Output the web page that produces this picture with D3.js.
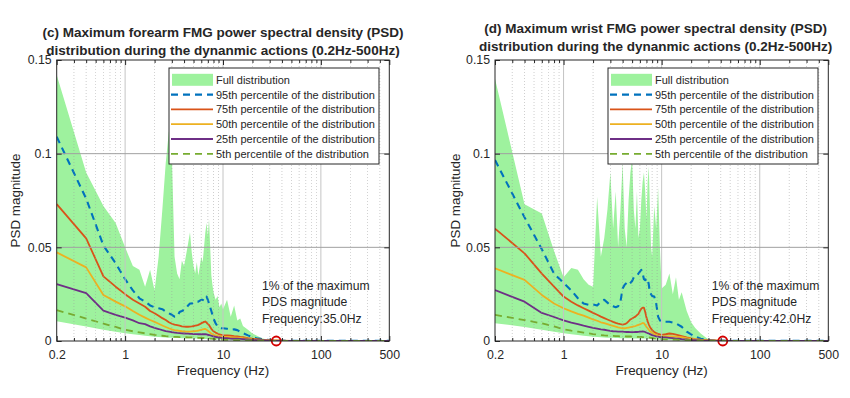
<!DOCTYPE html>
<html><head><meta charset="utf-8">
<script src="https://cdn.jsdelivr.net/npm/d3@7"></script>
<style>
body{margin:0;background:#fff}
svg{display:block}
text{font-family:"Liberation Sans",Arial,Helvetica,sans-serif;fill:#262626}
</style>
</head><body>
<svg id="chart" width="850" height="398"></svg>
<script>
// ---------- data ----------
const freq = [0.2,0.4,0.6,0.8,1.0,1.2,1.4,1.6,1.8,2.0,
  2.2,2.4,2.6,2.8,3.0,3.2,3.4,3.6,3.8,4.0,
  4.2,4.4,4.6,4.8,5.0,5.2,5.4,5.6,5.8,6.0,
  6.2,6.4,6.6,6.8,7.0,7.2,7.4,7.6,7.8,8.0,
  8.4,8.8,9.2,9.6,10,11,12,13,14,15,
  16,18,20,22,25,28,30,35,40,50,
  70,100,200,500];

// (c) forearm
const forearmMax = [0.142,0.090,0.072,0.063,0.050,0.040,0.038,0.029,0.038,0.027,
  0.045,0.070,0.095,0.112,0.100,0.045,0.036,0.033,0.043,0.040,
  0.046,0.052,0.058,0.047,0.040,0.036,0.042,0.035,0.040,0.045,
  0.042,0.050,0.058,0.063,0.056,0.065,0.050,0.035,0.030,0.026,
  0.022,0.024,0.018,0.020,0.017,0.022,0.013,0.019,0.011,0.012,
  0.008,0.006,0.004,0.003,0.0015,0.0008,0.0005,0.0003,0.0002,0.0001,
  0.0001,0.0001,0.0001,0.0001];
const forearmMin = [0.0105,0.0078,0.0060,0.0050,0.0042,0.0036,0.0032,0.0028,0.0025,0.0023,
  0.0021,0.0020,0.0019,0.0018,0.0018,0.0017,0.0016,0.0016,0.0015,0.0015,
  0.0014,0.0014,0.0014,0.0013,0.0013,0.0013,0.0013,0.0012,0.0012,0.0012,
  0.0012,0.0012,0.0011,0.0011,0.0011,0.0011,0.0010,0.0010,0.0010,0.0009,
  0.0009,0.0008,0.0008,0.0007,0.0006,0.0005,0.0004,0.0004,0.0003,0.0003,
  0.0003,0.0002,0.0002,0.0001,0.0001,0.0001,0.0001,0,0,0,
  0,0,0,0];
const forearmP95 = [0.109,0.076,0.051,0.0415,0.033,0.027,0.0228,0.021,0.019,0.018,
  0.0175,0.017,0.0157,0.0148,0.014,0.013,0.013,0.0155,0.016,0.0166,
  0.0175,0.019,0.020,0.020,0.0205,0.021,0.021,0.021,0.0215,0.022,
  0.022,0.0215,0.0225,0.0237,0.022,0.020,0.018,0.016,0.014,0.012,
  0.0095,0.0078,0.007,0.0068,0.0068,0.0065,0.006,0.0062,0.0058,0.005,
  0.0042,0.003,0.002,0.0015,0.001,0.0007,0.0005,0.0003,0.0002,0.0001,
  0.0001,0.0001,0.0001,0.0001];
const forearmP75 = [0.0731,0.0548,0.0345,0.029,0.025,0.022,0.020,0.0183,0.016,0.0148,
  0.0135,0.0122,0.0112,0.010,0.0092,0.0087,0.0085,0.0082,0.0078,0.0077,
  0.0076,0.0076,0.0077,0.0078,0.008,0.0082,0.0084,0.0086,0.009,0.0095,
  0.0098,0.0102,0.0104,0.0098,0.009,0.0085,0.0075,0.0065,0.0058,0.0052,
  0.0045,0.004,0.0035,0.0033,0.0031,0.003,0.0028,0.0026,0.0025,0.0022,
  0.002,0.0015,0.0012,0.001,0.0007,0.0005,0.0004,0.0003,0.0002,0.0001,
  0.0001,0.0001,0.0001,0.0001];
const forearmP50 = [0.0473,0.0393,0.0246,0.021,0.0185,0.016,0.014,0.0125,0.0112,0.0102,
  0.0092,0.0083,0.0075,0.0068,0.0062,0.0058,0.0056,0.0054,0.0052,0.0051,
  0.005,0.005,0.005,0.0051,0.0052,0.0053,0.0054,0.0056,0.0058,0.006,
  0.0062,0.0064,0.0064,0.006,0.0055,0.005,0.0044,0.004,0.0036,0.0033,
  0.003,0.0027,0.0025,0.0024,0.0023,0.0022,0.002,0.0019,0.0018,0.0017,
  0.0015,0.0012,0.0009,0.0007,0.0005,0.0004,0.0003,0.0002,0.0001,0.0001,
  0.0001,0.0001,0.0001,0.0001];
const forearmP25 = [0.0304,0.0255,0.0162,0.014,0.0125,0.011,0.0095,0.009,0.0078,0.007,
  0.0064,0.0058,0.0053,0.005,0.0047,0.0045,0.0043,0.0042,0.0041,0.004,
  0.0039,0.0039,0.0038,0.0038,0.0037,0.0037,0.0037,0.0036,0.0036,0.0036,
  0.0036,0.0036,0.0036,0.0035,0.0033,0.0032,0.003,0.0028,0.0026,0.0024,
  0.0022,0.002,0.0019,0.0017,0.0016,0.0015,0.0013,0.0012,0.0012,0.0011,
  0.001,0.0008,0.0006,0.0005,0.0004,0.0003,0.0002,0.0001,0.0001,0.0001,
  0.0001,0,0,0];
const forearmP5 = [0.0165,0.012,0.0093,0.0075,0.006,0.0052,0.0046,0.0041,0.0037,0.0033,
  0.003,0.0028,0.0026,0.0025,0.0023,0.0022,0.0022,0.0021,0.0021,0.002,
  0.002,0.0019,0.0019,0.0019,0.0018,0.0018,0.0018,0.0017,0.0017,0.0016,
  0.0016,0.0016,0.0015,0.0015,0.0014,0.0014,0.0013,0.0013,0.0012,0.0011,
  0.001,0.0009,0.0008,0.0007,0.0006,0.0006,0.0005,0.0005,0.0004,0.0004,
  0.0004,0.0003,0.0003,0.0002,0.0002,0.0001,0.0001,0.0001,0,0,
  0,0,0,0];

// (d) wrist
const wristMax = [0.140,0.073,0.068,0.048,0.034,0.039,0.038,0.033,0.030,0.029,
  0.077,0.045,0.055,0.070,0.090,0.060,0.080,0.050,0.070,0.095,
  0.060,0.050,0.075,0.090,0.097,0.070,0.060,0.080,0.055,0.060,
  0.075,0.085,0.090,0.080,0.065,0.085,0.093,0.070,0.050,0.045,
  0.072,0.060,0.082,0.050,0.028,0.030,0.036,0.025,0.034,0.022,
  0.026,0.016,0.010,0.007,0.004,0.002,0.001,0.0005,0.0003,0.0001,
  0.0001,0.0001,0.0001,0.0001];
const wristMin = [0.0095,0.0075,0.006,0.005,0.0042,0.0036,0.0032,0.0028,0.0025,0.0023,
  0.0021,0.002,0.0019,0.0018,0.0018,0.0017,0.0016,0.0016,0.0015,0.0015,
  0.0015,0.0015,0.0015,0.0015,0.0014,0.0014,0.0014,0.0014,0.0014,0.0014,
  0.0014,0.0014,0.0013,0.0013,0.0013,0.0012,0.0012,0.0011,0.0011,0.001,
  0.0009,0.0008,0.0008,0.0007,0.0006,0.0005,0.0005,0.0004,0.0004,0.0003,
  0.0003,0.0002,0.0002,0.0001,0.0001,0.0001,0.0001,0,0,0,
  0,0,0,0];
const wristP95 = [0.0966,0.066,0.049,0.036,0.031,0.027,0.0228,0.020,0.0193,0.0195,
  0.019,0.021,0.022,0.0205,0.019,0.0185,0.018,0.0185,0.021,0.028,
  0.030,0.031,0.030,0.031,0.032,0.034,0.0343,0.035,0.036,0.037,
  0.038,0.036,0.033,0.0325,0.033,0.0335,0.030,0.0255,0.025,0.024,
  0.0237,0.020,0.013,0.011,0.0103,0.0103,0.0103,0.0098,0.0094,0.0085,
  0.0076,0.005,0.0035,0.0023,0.0012,0.0008,0.0005,0.0003,0.0002,0.0001,
  0.0001,0.0001,0.0001,0.0001];
const wristP75 = [0.060,0.0468,0.036,0.029,0.0237,0.021,0.019,0.0175,0.0162,0.015,
  0.014,0.013,0.0122,0.0115,0.0108,0.0102,0.0097,0.0093,0.009,0.0088,
  0.009,0.0095,0.0105,0.0115,0.012,0.0125,0.013,0.0138,0.0145,0.016,
  0.0172,0.0178,0.0178,0.0155,0.0125,0.0105,0.0088,0.0075,0.0066,0.0058,
  0.0048,0.0042,0.0038,0.0035,0.0033,0.0036,0.004,0.0038,0.0034,0.003,
  0.0026,0.0019,0.0014,0.001,0.0007,0.0005,0.0004,0.0003,0.0002,0.0001,
  0.0001,0.0001,0.0001,0.0001];
const wristP50 = [0.0388,0.0326,0.0246,0.020,0.0175,0.0158,0.0145,0.0135,0.0125,0.0115,
  0.0108,0.010,0.0095,0.009,0.0085,0.0081,0.0077,0.0073,0.007,0.0068,
  0.0068,0.007,0.0072,0.0074,0.0076,0.0078,0.008,0.0083,0.0086,0.0089,
  0.0092,0.0096,0.0095,0.0085,0.0075,0.0068,0.006,0.0053,0.0048,0.0043,
  0.0037,0.0032,0.0028,0.0025,0.0024,0.0024,0.0025,0.0024,0.0023,0.0022,
  0.002,0.0015,0.0011,0.0008,0.0006,0.0004,0.0003,0.0002,0.0001,0.0001,
  0.0001,0.0001,0.0001,0.0001];
const wristP25 = [0.0272,0.021,0.015,0.0128,0.011,0.0098,0.009,0.0082,0.0076,0.007,
  0.0066,0.0062,0.006,0.0057,0.0054,0.0052,0.0051,0.005,0.005,0.005,
  0.0049,0.0048,0.0048,0.0047,0.0047,0.0047,0.0048,0.0048,0.0049,0.005,
  0.005,0.0051,0.005,0.0048,0.0044,0.0042,0.004,0.0037,0.0034,0.0031,
  0.0028,0.0025,0.0023,0.0021,0.002,0.0019,0.0017,0.0015,0.0013,0.0012,
  0.001,0.0008,0.0005,0.0004,0.0003,0.0002,0.0002,0.0001,0.0001,0.0001,
  0,0,0,0];
const wristP5 = [0.0139,0.0112,0.0094,0.0078,0.0062,0.0055,0.005,0.0045,0.0041,0.0037,
  0.0035,0.0032,0.003,0.0029,0.0027,0.0027,0.0026,0.0026,0.0025,0.0025,
  0.0025,0.0024,0.0024,0.0024,0.0023,0.0023,0.0023,0.0022,0.0022,0.0022,
  0.0022,0.0021,0.0021,0.0021,0.002,0.002,0.0019,0.0018,0.0017,0.0016,
  0.0014,0.0013,0.0012,0.0011,0.001,0.0009,0.0008,0.0007,0.0007,0.0006,
  0.0005,0.0004,0.0004,0.0003,0.0002,0.0002,0.0001,0.0001,0,0,
  0,0,0,0];

const xTickValues = [0.2, 1, 10, 100, 500];
const xMinorValues = [0.3,0.4,0.5,0.6,0.7,0.8,0.9,2,3,4,5,6,7,8,9,20,30,40,50,60,70,80,90,200,300,400];
const xMajorGrid = [1, 10, 100];
const yTickValues = [0, 0.05, 0.1, 0.15];
const legendLabels = ["Full distribution",
  "95th percentile of the distribution",
  "75th percentile of the distribution",
  "50th percentile of the distribution",
  "25th percentile of the distribution",
  "5th percentile of the distribution"];
const titleForearm = ["(c) Maximum forearm FMG power spectral density (PSD)",
  "distribution during the dynanmic actions (0.2Hz-500Hz)"];
const titleWrist = ["(d) Maximum wrist FMG power spectral density (PSD)",
  "distribution during the dynanmic actions (0.2Hz-500Hz)"];
const noteForearm = ["1% of the maximum", "PDS magnitude", "Frequency:35.0Hz"];
const noteWrist = ["1% of the maximum", "PDS magnitude", "Frequency:42.0Hz"];
const cutoffForearm = [35.0, 0];
const cutoffWrist = [42.0, 0];

// ---------- styles ----------
const fillColor = "#9ef29e";
const lineStyles = [
  {color:"#0072BD", width:2.1, dash:"7,5"},
  {color:"#D95319", width:1.8, dash:null},
  {color:"#EDB120", width:1.8, dash:null},
  {color:"#6e2f86", width:1.8, dash:null},
  {color:"#77AC30", width:1.8, dash:"7,5"}
];

const svg = d3.select("#chart");

function drawPanel(cfg, idx) {
  const x = d3.scaleLog().domain([0.2, 500]).range([cfg.x0, cfg.x1]);
  const y = d3.scaleLinear().domain([0, 0.15]).range([341, 60]);
  const g = svg.append("g");
  const clipId = "clip" + idx;
  g.append("clipPath").attr("id", clipId).append("rect")
    .attr("x", cfg.x0).attr("y", 60).attr("width", cfg.x1 - cfg.x0).attr("height", 281);

  const plot = g.append("g").attr("clip-path", `url(#${clipId})`);
  const pts = freq.map((f, i) => ({f, lo: cfg.min[i], hi: cfg.max[i]}));
  plot.append("path").datum(pts)
    .attr("d", d3.area().x(d => x(d.f)).y0(d => y(d.lo)).y1(d => y(d.hi)))
    .attr("fill", fillColor).attr("stroke", "none");

  // grid
  const grid = g.append("g");
  grid.selectAll("line.minor").data(xMinorValues).join("line")
    .attr("x1", d => x(d)).attr("x2", d => x(d)).attr("y1", 60).attr("y2", 341)
    .attr("stroke", "#9a9a9a").attr("stroke-width", 0.6).attr("stroke-dasharray", "1,2").attr("opacity", 0.8);
  grid.selectAll("line.major").data(xMajorGrid).join("line")
    .attr("x1", d => x(d)).attr("x2", d => x(d)).attr("y1", 60).attr("y2", 341)
    .attr("stroke", "#c4c4c4").attr("stroke-width", 1);
  grid.selectAll("line.ymaj").data(yTickValues.slice(1, 3)).join("line")
    .attr("x1", cfg.x0).attr("x2", cfg.x1).attr("y1", d => y(d)).attr("y2", d => y(d))
    .attr("stroke", "#a0a0a0").attr("stroke-width", 1);

  // percentile lines
  const line = d3.line().x(d => x(d.f)).y(d => y(d.v));
  cfg.series.forEach((s, k) => {
    const st = lineStyles[k];
    plot.append("path").datum(freq.map((f, i) => ({f, v: s[i]})))
      .attr("d", line).attr("fill", "none")
      .attr("stroke", st.color).attr("stroke-width", st.width)
      .attr("stroke-dasharray", st.dash).attr("stroke-linejoin", "round");
  });

  // cutoff marker
  g.append("circle")
    .attr("cx", x(cfg.cutoff[0])).attr("cy", y(cfg.cutoff[1])).attr("r", 4.5)
    .attr("fill", "none").attr("stroke", "#d40000").attr("stroke-width", 1.8);

  // axes
  const fmt = d => String(d);
  const axB = g.append("g").attr("transform", "translate(0,341)")
    .call(d3.axisBottom(x).tickValues(xTickValues).tickFormat(fmt).tickSizeInner(-5).tickSizeOuter(0).tickPadding(9));
  g.append("g").attr("transform", "translate(0,341)")
    .call(d3.axisBottom(x).tickValues(xMinorValues).tickFormat("").tickSizeInner(-3).tickSizeOuter(0));
  g.append("g").attr("transform", "translate(0,60)")
    .call(d3.axisTop(x).tickValues(xTickValues).tickFormat("").tickSizeInner(-5).tickSizeOuter(0));
  g.append("g").attr("transform", "translate(0,60)")
    .call(d3.axisTop(x).tickValues(xMinorValues).tickFormat("").tickSizeInner(-3).tickSizeOuter(0));
  g.append("g").attr("transform", `translate(${cfg.x0},0)`)
    .call(d3.axisLeft(y).tickValues(yTickValues).tickFormat(fmt).tickSizeInner(-5).tickSizeOuter(0).tickPadding(5));
  g.append("g").attr("transform", `translate(${cfg.x1},0)`)
    .call(d3.axisRight(y).tickValues(yTickValues).tickFormat("").tickSizeInner(-5).tickSizeOuter(0));
  g.selectAll(".domain").remove();
  g.selectAll(".tick line").attr("stroke", "#262626");
  g.selectAll(".tick text").attr("font-size", "12.3px").attr("fill", "#262626")
    .attr("font-family", '"Liberation Sans",Arial,sans-serif');

  g.append("rect").attr("x", cfg.x0).attr("y", 60).attr("width", cfg.x1 - cfg.x0).attr("height", 281)
    .attr("fill", "none").attr("stroke", "#262626").attr("stroke-width", 1);

  // annotation
  const note = g.append("text").attr("font-size", "12.2px");
  cfg.note.forEach((t, i) => {
    note.append("tspan").attr("x", cfg.noteX).attr("y", 289.5 + i * 16.6).text(t);
  });

  // legend
  const lg = g.append("g").attr("transform", `translate(${cfg.legX},68)`);
  lg.append("rect").attr("width", 210).attr("height", 96)
    .attr("fill", "#fff").attr("stroke", "#262626").attr("stroke-width", 1);
  legendLabels.forEach((lab, i) => {
    const ry = 11.8 + i * 14.8;
    if (i === 0) {
      lg.append("rect").attr("x", 3).attr("y", ry - 6).attr("width", 41).attr("height", 12).attr("fill", fillColor);
    } else {
      const st = lineStyles[i - 1];
      lg.append("line").attr("x1", 2).attr("x2", 44).attr("y1", ry).attr("y2", ry)
        .attr("stroke", st.color).attr("stroke-width", st.width).attr("stroke-dasharray", st.dash);
    }
    lg.append("text").attr("x", 47).attr("y", ry + 4).attr("font-size", "11px").text(lab);
  });

  // titles / labels
  const cx = (cfg.x0 + cfg.x1) / 2;
  cfg.title.forEach((t, i) => {
    g.append("text").attr("x", cx + cfg.titleDx).attr("y", cfg.titleY[i])
      .attr("text-anchor", "middle").attr("font-weight", "bold").attr("font-size", "13.5px")
      .attr("fill", "#000").text(t);
  });
  g.append("text").attr("x", cx).attr("y", 375).attr("text-anchor", "middle")
    .attr("font-size", "13.4px").text("Frequency (Hz)");
  g.append("text").attr("transform", `translate(${cfg.yLabX},200.5) rotate(-90)`)
    .attr("text-anchor", "middle").attr("font-size", "13.4px").text("PSD magnitude");
}

drawPanel({
  x0: 56.7, x1: 389.3, legX: 169, noteX: 262, yLabX: 20, titleDx: 0, titleY: [37, 55],
  max: forearmMax, min: forearmMin,
  series: [forearmP95, forearmP75, forearmP50, forearmP25, forearmP5],
  cutoff: cutoffForearm, note: noteForearm, title: titleForearm
}, 0);
drawPanel({
  x0: 495, x1: 828.3, legX: 608, noteX: 711.7, yLabX: 460, titleDx: -6, titleY: [33, 50.5],
  max: wristMax, min: wristMin,
  series: [wristP95, wristP75, wristP50, wristP25, wristP5],
  cutoff: cutoffWrist, note: noteWrist, title: titleWrist
}, 1);
</script>
</body></html>
